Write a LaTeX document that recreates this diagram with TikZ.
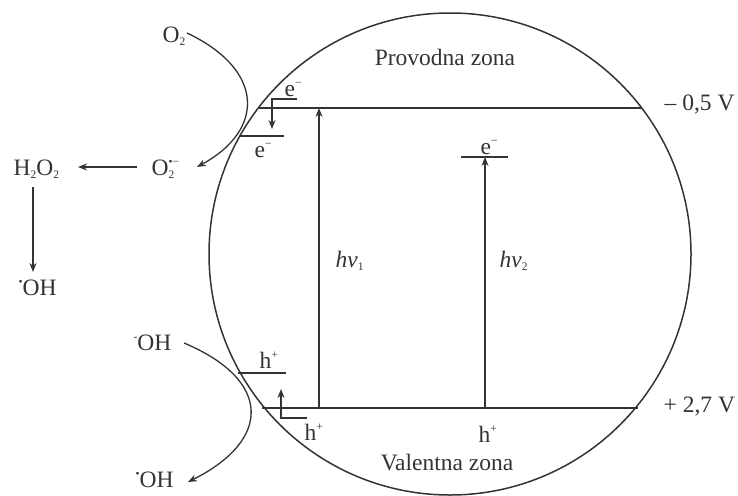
\documentclass[tikz,border=0pt]{standalone}
\usepackage{fontspec}
\setmainfont{Liberation Serif}
\usetikzlibrary{arrows.meta}
\definecolor{ink}{HTML}{333333}
\newcommand\lowx[1]{\raisebox{-3pt}{\fontsize{11.5}{12}\selectfont #1}}
\newcommand\highx[1]{\raisebox{9.5pt}{\fontsize{11.5}{12}\selectfont #1}}
\begin{document}
\begin{tikzpicture}[x=1pt,y=-1pt,line width=1.3pt,
  lbl/.style={font=\fontsize{23.5}{28}\selectfont,text=ink,inner sep=0pt,anchor=base west},
  clbl/.style={lbl,anchor=base},
  arr/.style={draw=ink,-{Stealth[length=9pt,width=7pt]}},
  ln/.style={draw=ink}]
\useasboundingbox (0,0) rectangle (738,495);
% particle
\draw[ln,line width=1.5pt] (450,254) circle[radius=241pt];
% band levels
\coordinate (cbL) at (259,108); \coordinate (cbR) at (642,108);
\coordinate (vbL) at (262,408); \coordinate (vbR) at (638,408);
\draw[ln] (cbL) -- (cbR);
\draw[ln] (vbL) -- (vbR);
% excitations
\coordinate (hv1s) at (319,408); \coordinate (hv1e) at (319,108);
\draw[arr] (hv1s) -- (hv1e);
\coordinate (lv2L) at (461,157); \coordinate (lv2R) at (508,157);
\coordinate (lv2) at (485,157); \coordinate (hv2s) at (485,408);
\draw[ln] (lv2L) -- (lv2R);
\draw[arr] (hv2s) -- (lv2);
% electron trap
\coordinate (et1) at (297,99); \coordinate (et2) at (272,99); \coordinate (et3) at (272,129);
\draw[arr] (et1) -- (et2) -- (et3);
\coordinate (etL) at (240,136); \coordinate (etR) at (284,136);
\draw[ln] (etL) -- (etR);
% hole trap
\coordinate (htL) at (238,373); \coordinate (htR) at (286,373);
\draw[ln] (htL) -- (htR);
\coordinate (ht1) at (307,418); \coordinate (ht2) at (281,418); \coordinate (ht3) at (281,389);
\draw[arr] (ht1) -- (ht2) -- (ht3);
% labels
\node[clbl] (pz) at (445,66) {Provodna zona};
\node[clbl] (vz) at (447,470) {Valentna zona};
\node[lbl] (vm) at (664,110) {– 0,5 V};
\node[lbl] (vp) at (663,412) {+ 2,7 V};
\node[lbl] (e1) at (284,96) {e\highx{−}};
\node[lbl] (e2) at (254,157) {e\highx{−}};
\node[lbl] (e3) at (480,154) {e\highx{−}};
\node[lbl] (h1) at (259,368) {h\highx{+}};
\node[lbl] (h2) at (304,440) {h\highx{+}};
\node[lbl] (h3) at (478,442) {h\highx{+}};
\node[lbl] (hv1) at (335,267) {\textit{hν}\lowx{1}};
\node[lbl] (hv2) at (499,267) {\textit{hν}\lowx{2}};
% chemistry
\node[lbl] (o2) at (162,42) {O\lowx{2}};
\node[lbl] (o2r) at (151,175) {O\rlap{\lowx{2}}\highx{•−}};
\node[lbl] (h2o2) at (13,175) {H\lowx{2}O\lowx{2}};
\node[lbl] (oh1) at (18,295) {\highx{•}OH};
\node[lbl] (ohm) at (133,350) {\highx{-}OH};
\node[lbl] (oh2) at (135,487) {\highx{•}OH};
\coordinate (c1s) at (187,33); \coordinate (c1e) at (197,167);
\draw[arr] (c1s) .. controls (265,70) and (265,130) .. (c1e);
\coordinate (a1s) at (137,167); \coordinate (a1e) at (78,167);
\draw[arr] (a1s) -- (a1e);
\coordinate (a2s) at (33,187); \coordinate (a2e) at (33,272);
\draw[arr] (a2s) -- (a2e);
\coordinate (c2s) at (184,343); \coordinate (c2e) at (188,482);
\draw[arr] (c2s) .. controls (272,380) and (272,440) .. (c2e);
\end{tikzpicture}
\end{document}
